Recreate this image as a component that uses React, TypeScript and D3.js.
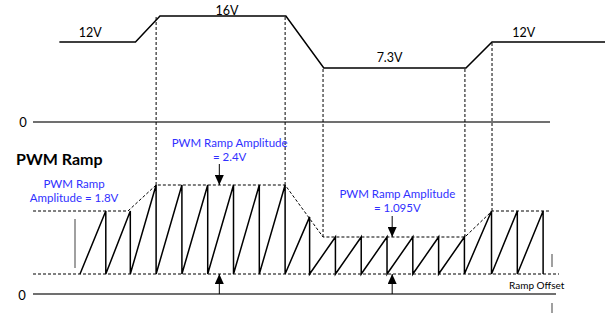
import React from "react";
import * as d3 from "d3";

// ---- data ----
// supply (input) voltage profile: time (switching cycles) and volts
const supplyT = [0.2, 3.15, 4.1, 8.98, 10.45, 15.96, 16.97, 21.35];
const supplyV = [12, 12, 16, 16, 7.3, 7.3, 12, 12];
const supplyLabels = [
  { text: "12V", t: 1.4, v: 12 },
  { text: "16V", t: 6.7, v: 16 },
  { text: "7.3V", t: 13.0, v: 7.3 },
  { text: "12V", t: 18.2, v: 12 },
];
const supplyLabelGap = [5, 1.5, 6, 5];
// PWM ramp amplitude envelope (feed-forward, 0.15 x Vin)
const envT = [-0.82, 2.86, 3.95, 8.95, 10.42, 15.92, 16.97, 19.22];
const envA = [1.8, 1.8, 2.4, 2.4, 1.095, 1.095, 1.8, 1.8];
// ramp start and each sawtooth peak
const rampStart = 1.0;
const peakT = [2, 2.95, 3.95, 4.95, 5.95, 6.95, 7.95, 8.95, 9.9, 10.9, 11.9, 12.9, 13.9, 14.9, 15.9, 16.95, 17.95, 18.95];
const peakA = [1.8, 1.8, 2.4, 2.4, 2.4, 2.4, 2.4, 2.4, 1.64, 1.095, 1.095, 1.095, 1.095, 1.095, 1.095, 1.8, 1.8, 1.8];
// dashed guides from supply corners down to the ramp envelope
const guideIdx = [2, 3, 4, 5, 6];
const guideV = [16, 16, 7.3, 7.3, 12];
const ampLabels = [
  { lines: ["PWM Ramp", "Amplitude = 1.8V"], t: 0.77 },
  { lines: ["PWM Ramp Amplitude", "= 2.4V"], t: 6.8 },
  { lines: ["PWM Ramp Amplitude", "= 1.095V"], t: 13.3 },
];
const arrowT = [6.4, 13.1];
const arrowA = [2.4, 1.095];

export default function App() {
  const W = 607, H = 313;
  const x = d3.scaleLinear().domain([0, 22]).range([54.2, 621.8]);
  const ySup = d3.scaleLinear().domain([0, 7.3, 12, 16]).range([122, 68, 42, 16]);
  const yAmp = d3.scaleLinear().domain([0, 1.095, 1.8, 2.4]).range([274, 237, 211, 185]);
  const zeroRamp = yAmp(0) + 20;

  const supplyLine = d3.line<number>().x((_, i) => x(supplyT[i])).y((d) => ySup(d));
  const envLine = d3.line<number>().x((_, i) => x(envT[i])).y((d) => yAmp(d));

  const sawPts: [number, number][] = [[x(rampStart), yAmp(0)]];
  peakT.forEach((t, i) => {
    sawPts.push([x(t), yAmp(peakA[i])]);
    sawPts.push([x(t), yAmp(0)]);
  });
  const sawPath = d3.line()(sawPts) || "";

  const blue = "#3030ff";
  const font = "Lato, 'Open Sans', sans-serif";

  return (
    <svg width={W} height={H} style={{ position: "absolute", left: 0, top: 0 }} fontFamily={font}>
      <defs>
        <marker id="ah" viewBox="0 0 10 10" refX="10" refY="5" markerWidth="10" markerHeight="9" markerUnits="userSpaceOnUse" orient="auto" preserveAspectRatio="none">
          <path d="M0,0 L10,5 L0,10 z" fill="#000" />
        </marker>
      </defs>
      {/* supply waveform */}
      <path d={supplyLine(supplyV) || ""} fill="none" stroke="#000" strokeWidth={1.5} />
      {supplyLabels.map((l, i) => (
        <text key={i} x={x(l.t)} y={ySup(l.v) - supplyLabelGap[i]} textAnchor="middle" fontSize={12.5}>{l.text}</text>
      ))}
      {/* zero lines */}
      <line x1={33} x2={550} y1={ySup(0)} y2={ySup(0)} stroke="#707070" strokeWidth={2} />
      <text x={23} y={ySup(0) + 5} textAnchor="middle" fontSize={13}>0</text>
      <line x1={33} x2={556} y1={zeroRamp} y2={zeroRamp} stroke="#707070" strokeWidth={2} />
      <text x={22} y={zeroRamp + 6} textAnchor="middle" fontSize={13}>0</text>
      {/* dashed guides */}
      {guideIdx.map((k, i) => (
        <line key={k} x1={x(envT[k])} x2={x(envT[k])} y1={ySup(guideV[i]) + 1} y2={yAmp(envA[k])}
          stroke="#000" strokeWidth={1} strokeDasharray="3,2" />
      ))}
      {/* envelope and offset */}
      <path d={envLine(envA) || ""} fill="none" stroke="#000" strokeWidth={1} strokeDasharray="3,2" />
      <line x1={33} x2={559} y1={yAmp(0)} y2={yAmp(0)} stroke="#000" strokeWidth={1} strokeDasharray="3,2" />
      {/* sawtooth */}
      <path d={sawPath} fill="none" stroke="#000" strokeWidth={1.5} />
      {/* arrows */}
      {arrowT.map((t, i) => (
        <g key={i}>
          <line x1={x(t)} x2={x(t)} y1={yAmp(arrowA[i]) - 21} y2={yAmp(arrowA[i])} stroke="#000" strokeWidth={1} markerEnd="url(#ah)" />
          <line x1={x(t)} x2={x(t)} y1={zeroRamp} y2={yAmp(0)} stroke="#000" strokeWidth={1} markerEnd="url(#ah)" />
        </g>
      ))}
      {/* small gray ticks */}
      <line x1={75} x2={75} y1={219} y2={268} stroke="#808080" strokeWidth={1.5} />
      <line x1={552} x2={552} y1={254} y2={267} stroke="#808080" strokeWidth={1.5} />
      <line x1={552} x2={552} y1={303} y2={313} stroke="#808080" strokeWidth={1.5} />
      {/* labels */}
      <text x={16} y={165} fontSize={16} fontWeight="bold">PWM Ramp</text>
      {ampLabels.map((l, i) => {
        const top = i === 0 ? 188 : i === 1 ? 147 : 198;
        return (
          <text key={i} x={x(l.t)} textAnchor="middle" fontSize={11.5} fill={blue}>
            {l.lines.map((s, j) => (
              <tspan key={j} x={x(l.t)} y={top + j * 13.5}>{s}</tspan>
            ))}
          </text>
        );
      })}
      <text x={509} y={289} fontSize={10}>Ramp Offset</text>
    </svg>
  );
}
